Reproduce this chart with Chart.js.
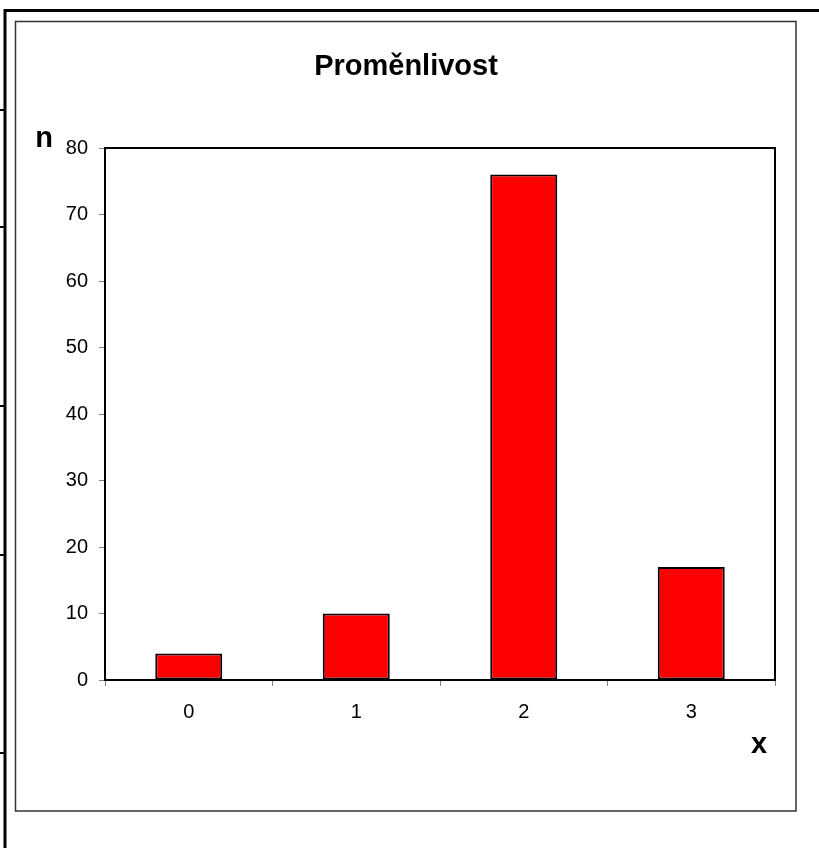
<!DOCTYPE html>
<html>
<head>
<meta charset="utf-8">
<script src="https://cdn.jsdelivr.net/npm/chart.js@4/dist/chart.umd.min.js"></script>
<style>
  html, body { margin: 0; padding: 0; background: #ffffff; }
  #wrap { position: relative; width: 819px; height: 848px; }
  canvas { display: block; }
</style>
</head>
<body>
<div id="wrap"><canvas id="c" width="819" height="848"></canvas></div>
<script>
// Chart content
const chartTitle = 'Proměnlivost';
const categories = ['0', '1', '2', '3'];
const counts = [4, 10, 76, 17];
const yMin = 0;
const yMax = 80;
const yStep = 10;
const yAxisLabel = 'n';
const xAxisLabel = 'x';

const FONT = '"Liberation Sans", Arial, sans-serif';

// Sheet-style frame around the chart, chart-area border, plot-area box and axis letters
const framePlugin = {
  id: 'frame',
  beforeDraw(chart) {
    const ctx = chart.ctx;
    ctx.save();
    ctx.fillStyle = '#ffffff';
    ctx.fillRect(0, 0, chart.width, chart.height);
    // cell borders of the sheet
    ctx.strokeStyle = '#000000';
    ctx.lineWidth = 3;
    ctx.beginPath();
    ctx.moveTo(3.5, 10.5); ctx.lineTo(chart.width, 10.5);
    ctx.moveTo(5, 9); ctx.lineTo(5, chart.height);
    ctx.stroke();
    ctx.lineWidth = 2;
    ctx.beginPath();
    [110, 227, 406, 555, 753].forEach(y => { ctx.moveTo(0, y); ctx.lineTo(5, y); });
    ctx.stroke();
    // chart area border
    ctx.strokeStyle = '#333333';
    ctx.lineWidth = 1.5;
    ctx.strokeRect(15.5, 21.5, 780.5, 789.5);
    ctx.restore();
  },
  afterDatasetsDraw(chart) {
    const ctx = chart.ctx;
    const a = chart.chartArea;
    ctx.save();
    ctx.strokeStyle = '#000000';
    ctx.lineWidth = 2;
    ctx.beginPath();
    ctx.moveTo(a.left, a.top); ctx.lineTo(a.right, a.top); ctx.lineTo(a.right, a.bottom);
    ctx.stroke();
    ctx.fillStyle = '#000000';
    ctx.font = 'bold 29px ' + FONT;
    ctx.textAlign = 'center';
    ctx.textBaseline = 'alphabetic';
    ctx.fillText(yAxisLabel, 44, 147);
    ctx.fillText(xAxisLabel, 759, 753);
    ctx.restore();
  }
};

new Chart(document.getElementById('c'), {
  type: 'bar',
  data: {
    labels: categories,
    datasets: [{
      data: counts,
      backgroundColor: '#ff0000',
      borderColor: '#000000',
      borderWidth: 2,
      borderSkipped: false,
      barPercentage: 0.4,
      categoryPercentage: 1.0
    }]
  },
  options: {
    responsive: false,
    animation: false,
    devicePixelRatio: 1,
    layout: { padding: { left: 37, right: 44, top: 0, bottom: 0 } },
    plugins: {
      legend: { display: false },
      tooltip: { enabled: false },
      title: {
        display: true,
        text: chartTitle,
        color: '#000000',
        font: { family: FONT, size: 29, weight: 'bold', lineHeight: 1.2 },
        padding: { top: 50, bottom: 63.2 }
      }
    },
    scales: {
      x: {
        offset: true,
        grid: { display: true, drawOnChartArea: false, drawTicks: true, tickLength: 6, tickColor: '#808080', offset: true },
        border: { display: true, color: '#000000', width: 2 },
        ticks: { color: '#000000', font: { family: FONT, size: 20 }, padding: 14, maxRotation: 0 },
        afterFit(scale) { scale.height = 168; }
      },
      y: {
        min: yMin,
        max: yMax,
        grid: { display: true, drawOnChartArea: false, drawTicks: true, tickLength: 6, tickColor: '#808080' },
        border: { display: true, color: '#000000', width: 2 },
        ticks: { stepSize: yStep, color: '#000000', font: { family: FONT, size: 20 }, padding: 11 },
        afterFit(scale) { scale.width = 68; }
      }
    }
  },
  plugins: [framePlugin]
});
</script>
</body>
</html>
